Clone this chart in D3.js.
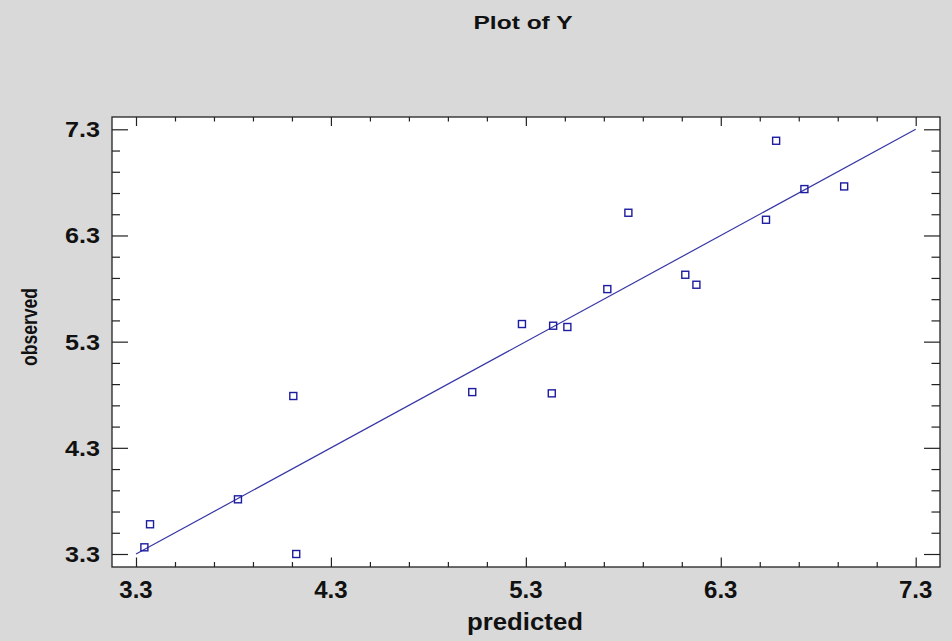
<!DOCTYPE html>
<html>
<head>
<meta charset="utf-8">
<script src="https://cdn.jsdelivr.net/npm/d3@7"></script>
<style>
  html, body { margin: 0; padding: 0; background: #d9d9d9; }
  svg { display: block; font-family: "Liberation Sans", Arial, sans-serif; }
  .lbl { font-weight: bold; fill: #111; }
  .axis .domain { display: none; }
  .axis line { stroke: #222; stroke-width: 1.2; }
</style>
</head>
<body>
<div id="chart"></div>
<script>
const predicted = [3.343, 3.372, 3.823, 4.107, 4.122, 5.025, 5.280, 5.440, 5.513, 5.433,
                   5.718, 5.826, 6.118, 6.175, 6.532, 6.584, 6.729, 6.933];
const observed  = [3.363, 3.580, 3.815, 4.788, 3.300, 4.825, 5.466, 5.450, 5.438, 4.813,
                   5.795, 6.514, 5.930, 5.836, 6.448, 7.192, 6.737, 6.762];
const fitLine = [[3.3, 3.3], [7.3, 7.3]];
const majorTicks = [3.3, 4.3, 5.3, 6.3, 7.3];
const minorTicks = d3.range(0, 21).map(i => +(3.3 + i * 0.2).toFixed(1));

const width = 952, height = 641;
const frame = {left: 112, right: 940, top: 117, bottom: 567};

const svg = d3.select("#chart")
  .append("svg")
  .attr("width", width)
  .attr("height", height);

svg.append("rect")
  .attr("width", width)
  .attr("height", height)
  .attr("fill", "#d9d9d9");

const x = d3.scaleLinear().domain([3.3, 7.3]).range([136, 915.7]);
const y = d3.scaleLinear().domain([3.3, 7.3]).range([554, 129.3]);

// plot panel
svg.append("rect")
  .attr("x", frame.left)
  .attr("y", frame.top)
  .attr("width", frame.right - frame.left)
  .attr("height", frame.bottom - frame.top)
  .attr("fill", "white");

// ticks, all pointing inward
const addTicks = (axisFn, transform, values, size) => {
  svg.append("g")
    .attr("class", "axis")
    .attr("transform", transform)
    .call(axisFn.tickValues(values).tickSize(size).tickFormat(""));
};
const minorOnly = minorTicks.filter(v => !majorTicks.some(m => Math.abs(m - v) < 1e-6));

addTicks(d3.axisBottom(x), `translate(0,${frame.bottom})`, minorOnly, -5);
addTicks(d3.axisBottom(x), `translate(0,${frame.bottom})`, majorTicks, -9.5);
addTicks(d3.axisTop(x), `translate(0,${frame.top})`, minorOnly, -4.5);
addTicks(d3.axisTop(x), `translate(0,${frame.top})`, majorTicks, -9);
addTicks(d3.axisLeft(y), `translate(${frame.left},0)`, minorOnly, -8);
addTicks(d3.axisLeft(y), `translate(${frame.left},0)`, majorTicks, -16);
addTicks(d3.axisRight(y), `translate(${frame.right},0)`, minorOnly, -8.5);
addTicks(d3.axisRight(y), `translate(${frame.right},0)`, majorTicks, -16);

// frame
svg.append("rect")
  .attr("x", frame.left)
  .attr("y", frame.top)
  .attr("width", frame.right - frame.left)
  .attr("height", frame.bottom - frame.top)
  .attr("fill", "none")
  .attr("stroke", "#222")
  .attr("stroke-width", 1.3);

// tick labels
svg.append("g")
  .selectAll("text")
  .data(majorTicks)
  .enter().append("text")
  .attr("class", "lbl")
  .attr("x", d => x(d))
  .attr("y", 598)
  .attr("text-anchor", "middle")
  .style("font-size", "24px")
  .text(d => d.toFixed(1));

svg.append("g")
  .selectAll("text")
  .data(majorTicks)
  .enter().append("text")
  .attr("class", "lbl")
  .attr("x", 100)
  .attr("y", d => y(d) + 8)
  .attr("text-anchor", "end")
  .attr("textLength", 35)
  .attr("lengthAdjust", "spacingAndGlyphs")
  .style("font-size", "22px")
  .text(d => d.toFixed(1));

// fitted line
svg.append("path")
  .datum(fitLine)
  .attr("d", d3.line().x(d => x(d[0])).y(d => y(d[1])))
  .attr("fill", "none")
  .attr("stroke", "#3636a6")
  .attr("stroke-width", 1.2);

// points
svg.append("g")
  .selectAll("rect")
  .data(predicted.map((p, i) => [p, observed[i]]))
  .enter().append("rect")
  .attr("x", d => x(d[0]) - 3.5)
  .attr("y", d => y(d[1]) - 3.5)
  .attr("width", 7)
  .attr("height", 7)
  .attr("fill", "none")
  .attr("stroke", "#1c1ca0")
  .attr("stroke-width", 1.4);

// titles
svg.append("text")
  .attr("class", "lbl")
  .attr("x", 523)
  .attr("y", 29)
  .attr("text-anchor", "middle")
  .attr("textLength", 99)
  .attr("lengthAdjust", "spacingAndGlyphs")
  .style("font-size", "18px")
  .text("Plot of Y");

svg.append("text")
  .attr("class", "lbl")
  .attr("x", 525)
  .attr("y", 630)
  .attr("text-anchor", "middle")
  .attr("textLength", 116)
  .attr("lengthAdjust", "spacingAndGlyphs")
  .style("font-size", "23px")
  .text("predicted");

svg.append("text")
  .attr("class", "lbl")
  .attr("transform", "translate(37,327) rotate(-90)")
  .attr("text-anchor", "middle")
  .attr("textLength", 78)
  .attr("lengthAdjust", "spacingAndGlyphs")
  .style("font-size", "22px")
  .text("observed");
</script>
</body>
</html>
